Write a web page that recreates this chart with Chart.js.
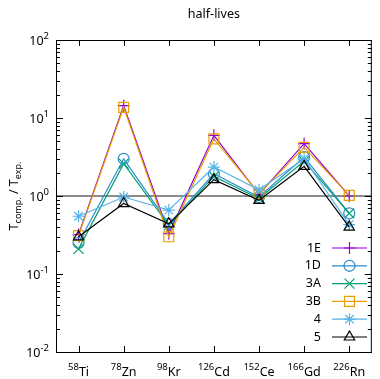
<!DOCTYPE html>
<html>
<head>
<meta charset="utf-8">
<script src="https://cdn.jsdelivr.net/npm/chart.js@4/dist/chart.umd.min.js"></script>
<style>
  html, body { margin: 0; padding: 0; background: #fff; }
</style>
</head>
<body>
<canvas id="chart" width="380" height="379"></canvas>
<script>
const nuclides = ["Ti", "Zn", "Kr", "Cd", "Ce", "Gd", "Rn"]
const massNumbers = ["58", "78", "98", "126", "152", "166", "226"]

const series1E = [0.32, 14.4, 0.33, 6.0, 1.05, 4.7, 1.0]
const series1D = [0.25, 3.0, 0.44, 1.93, 0.97, 3.15, 0.60]
const series3A = [0.21, 2.6, 0.42, 1.78, 0.93, 2.8, 0.60]
const series3B = [0.31, 13.7, 0.30, 5.4, 1.07, 4.2, 1.02]
const series4 = [0.55, 0.97, 0.66, 2.35, 1.2, 3.0, 0.43]
const series5 = [0.30, 0.80, 0.44, 1.62, 0.88, 2.4, 0.40]

const yDecades = [-2, -1, 0, 1, 2]
const titleText = "half-lives"
const font = "'Noto Sans', 'Open Sans', sans-serif"

const mk = (label, data, color, style, radius, order) => ({
  label, data,
  borderColor: color,
  backgroundColor: "transparent",
  pointBorderColor: color,
  pointBackgroundColor: "transparent",
  pointStyle: style,
  pointRadius: radius,
  pointHoverRadius: radius,
  pointBorderWidth: 1.2,
  borderWidth: 1.2,
  tension: 0,
  order
})

// base text with a superscript, aligned "left" | "right" | "center"
function supText(ctx, base, sup, x, y, align, supFirst) {
  ctx.font = "12.5px " + font
  const wb = ctx.measureText(base).width
  ctx.font = "9.5px " + font
  const ws = ctx.measureText(sup).width
  const total = wb + ws
  let left = x
  if (align === "right") left = x - total
  if (align === "center") left = x - total / 2
  ctx.textAlign = "left"
  ctx.textBaseline = "alphabetic"
  if (supFirst) {
    ctx.font = "9.5px " + font
    ctx.fillText(sup, left, y - 6)
    ctx.font = "12.5px " + font
    ctx.fillText(base, left + ws, y)
  } else {
    ctx.font = "12.5px " + font
    ctx.fillText(base, left, y)
    ctx.font = "9.5px " + font
    ctx.fillText(sup, left + wb, y - 6)
  }
}

const frame = {
  id: "frame",
  beforeDatasetsDraw(chart) {
    const { ctx, chartArea: a, scales: { y } } = chart
    const y1 = y.getPixelForValue(1)
    ctx.save()
    ctx.strokeStyle = "#666"
    ctx.lineWidth = 1.6
    ctx.beginPath()
    ctx.moveTo(a.left, y1)
    ctx.lineTo(a.right, y1)
    ctx.stroke()
    ctx.restore()
  },
  afterDraw(chart) {
    const { ctx, chartArea: a, scales: { x, y } } = chart
    ctx.save()
    ctx.strokeStyle = "#000"
    ctx.fillStyle = "#000"
    ctx.lineWidth = 1
    ctx.strokeRect(a.left + 0.5, a.top + 0.5, a.right - a.left - 1, a.bottom - a.top)

    // y ticks, both sides
    ctx.beginPath()
    yDecades.forEach(d => {
      const py = Math.round(y.getPixelForValue(Math.pow(10, d))) + 0.5
      ctx.moveTo(a.left, py); ctx.lineTo(a.left + 7, py)
      ctx.moveTo(a.right, py); ctx.lineTo(a.right - 7, py)
      if (d < 2) {
        for (let m = 2; m <= 9; m++) {
          const pm = Math.round(y.getPixelForValue(m * Math.pow(10, d))) + 0.5
          ctx.moveTo(a.left, pm); ctx.lineTo(a.left + 4, pm)
          ctx.moveTo(a.right, pm); ctx.lineTo(a.right - 4, pm)
        }
      }
    })
    // x ticks, top and bottom
    nuclides.forEach((n, i) => {
      const px = Math.round(x.getPixelForValue(i)) + 0.5
      ctx.moveTo(px, a.bottom); ctx.lineTo(px, a.bottom - 6)
      ctx.moveTo(px, a.top); ctx.lineTo(px, a.top + 6)
    })
    ctx.stroke()

    // y tick labels
    yDecades.forEach(d => {
      const py = y.getPixelForValue(Math.pow(10, d))
      supText(ctx, "10", String(d), 49, py + 5, "right", false)
    })
    // x tick labels
    nuclides.forEach((n, i) => {
      supText(ctx, n, massNumbers[i], x.getPixelForValue(i), a.bottom + 24, "center", true)
    })

    // title
    ctx.font = "12.5px " + font
    ctx.textAlign = "center"
    ctx.textBaseline = "middle"
    ctx.fillText(titleText, (a.left + a.right) / 2, 14)

    // y axis title
    ctx.save()
    ctx.translate(18, (a.top + a.bottom) / 2)
    ctx.rotate(-Math.PI / 2)
    const parts = [["T", 0, 12.5], ["comp.", 3, 9], [" / T", 0, 12.5], ["exp.", 3, 9]]
    let w = 0
    parts.forEach(p => { ctx.font = p[2] + "px " + font; w += ctx.measureText(p[0]).width })
    let cx = -w / 2
    ctx.textAlign = "left"
    ctx.textBaseline = "alphabetic"
    parts.forEach(p => {
      ctx.font = p[2] + "px " + font
      ctx.fillText(p[0], cx, p[1])
      cx += ctx.measureText(p[0]).width
    })
    ctx.restore()

    // legend, inside bottom right
    chart.data.datasets.forEach((ds, i) => {
      const ly = 248 + i * 17.8
      ctx.font = "12.5px " + font
      ctx.fillStyle = "#000"
      ctx.textAlign = "right"
      ctx.textBaseline = "middle"
      ctx.fillText(ds.label, 321, ly)
      ctx.strokeStyle = ds.borderColor
      ctx.lineWidth = ds.borderWidth
      ctx.beginPath()
      ctx.moveTo(332, ly); ctx.lineTo(367, ly)
      ctx.stroke()
      ctx.fillStyle = "transparent"
      ctx.lineWidth = ds.pointBorderWidth
      Chart.helpers.drawPoint(ctx, {
        pointStyle: ds.pointStyle, radius: ds.pointRadius,
        borderWidth: ds.pointBorderWidth, rotation: 0
      }, 349.5, ly)
    })
    ctx.restore()
  }
}

new Chart(document.getElementById("chart"), {
  type: "line",
  data: {
    labels: nuclides,
    datasets: [
      mk("1E", series1E, "#9400d3", "cross", 6, 6),
      mk("1D", series1D, "#2a8cc8", "circle", 5.5, 5),
      mk("3A", series3A, "#009e73", "crossRot", 7, 4),
      mk("3B", series3B, "#e69f00", "rect", 7, 3),
      mk("4", series4, "#56b4e9", "star", 6, 2),
      mk("5", series5, "#000000", "triangle", 6, 1)
    ]
  },
  options: {
    responsive: false,
    animation: false,
    layout: { padding: { left: 56, right: 1, top: 40, bottom: 27 } },
    plugins: {
      legend: { display: false },
      title: { display: false },
      tooltip: { enabled: false }
    },
    scales: {
      x: { type: "category", offset: true, display: false },
      y: { type: "logarithmic", min: 0.01, max: 100, display: false }
    }
  },
  plugins: [frame]
})
</script>
</body>
</html>
